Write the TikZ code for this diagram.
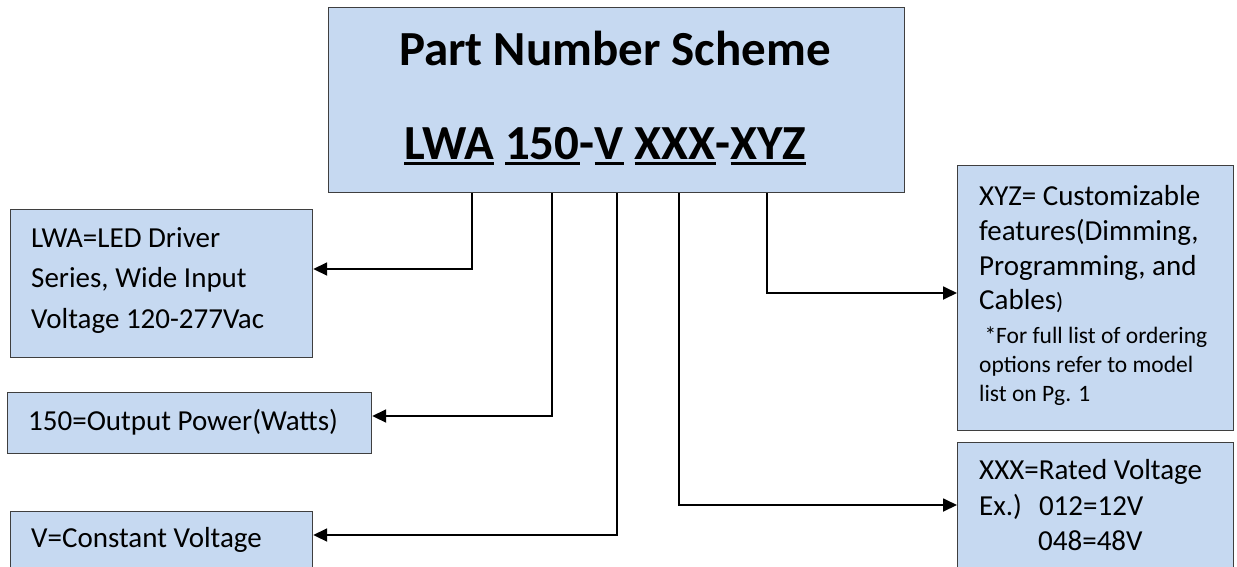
\documentclass[tikz,border=0pt]{standalone}
\usepackage{fontspec}
\setmainfont{Carlito}
\usetikzlibrary{arrows.meta}
\definecolor{boxfill}{HTML}{C6D9F1}
\definecolor{boxline}{HTML}{3F3F3F}
\newcommand\myul[1]{\setbox0\hbox{#1}\rlap{\rule[-6pt]{\wd0}{3pt}}\box0\relax}
\tikzset{
  box/.style={draw=boxline, fill=boxfill, line width=1.2pt, inner sep=0pt},
  conn/.style={line width=1.8pt, -{Triangle[length=14pt,width=13pt]}},
  txt/.style={inner sep=0pt, anchor=base west, font=\fontsize{29}{35}\selectfont},
  smalltxt/.style={inner sep=0pt, anchor=base west, font=\fontsize{23.5}{28}\selectfont},
  titletxt/.style={inner sep=0pt, anchor=base, font=\fontsize{49}{59}\selectfont\bfseries},
}
\begin{document}
\begin{tikzpicture}[x=1pt,y=1pt]
\clip (0,0) rectangle (1237,-566);
\fill[white] (0,0) rectangle (1237,-566);
% boxes
\node[box, anchor=north west, minimum width=576pt, minimum height=185pt] (main) at (328,-7) {};
\node[box, anchor=north west, minimum width=302pt, minimum height=148pt] (lwa) at (10,-209) {};
\node[box, anchor=north west, minimum width=364pt, minimum height=61pt] (pow) at (7,-392) {};
\node[box, anchor=north west, minimum width=302pt, minimum height=90pt] (cv) at (10,-511) {};
\node[box, anchor=north west, minimum width=276pt, minimum height=265pt] (xyz) at (957,-165) {};
\node[box, anchor=north west, minimum width=276pt, minimum height=150pt] (xxx) at (957,-442) {};
% title texts
\node[titletxt] (t1) at (615,-65) {Part Number Scheme};
\node[titletxt, anchor=base west] (t2) at (404,-159) {\myul{LWA} \myul{150}-\myul{V} \myul{XXX}-\myul{XYZ}};
% left texts
\node[txt] (l1) at (31,-247) {LWA=LED Driver};
\node[txt] (l2) at (31,-287) {Series, Wide Input};
\node[txt] (l3) at (31,-328) {Voltage 120-277Vac};
\node[txt] (p1) at (28,-430) {150=Output Power(Watts)};
\node[txt] (v1) at (31,-547) {V=Constant Voltage};
% right texts
\node[txt] (x1) at (979,-205) {XYZ= Customizable};
\node[txt] (x2) at (979,-240) {features(Dimming,};
\node[txt] (x3) at (979,-275) {Programming, and};
\node[txt] (x4) at (979,-309) {Cables{\fontsize{23.5}{28}\selectfont)}};
\node[smalltxt] (x5) at (979,-343) {\ *For full list of ordering};
\node[smalltxt] (x6) at (979,-372) {options refer to model};
\node[smalltxt] (x7) at (979,-401) {list on Pg. 1};
\node[txt] (r1) at (979,-479) {XXX=Rated Voltage};
\node[txt] (r2) at (979,-515) {Ex.)\hspace{17pt}012=12V};
\node[txt] (r3) at (1038,-550) {048=48V};
% connectors
\draw[conn] (main.south -| 472,0) |- (lwa.east |- 0,-269);
\draw[conn] (main.south -| 552,0) |- (pow.east |- 0,-416);
\draw[conn] (main.south -| 617,0) |- (cv.east |- 0,-535);
\draw[conn] (main.south -| 679,0) |- (xxx.west |- 0,-505);
\draw[conn] (main.south -| 767,0) |- (xyz.west |- 0,-293);
\end{tikzpicture}
\end{document}
